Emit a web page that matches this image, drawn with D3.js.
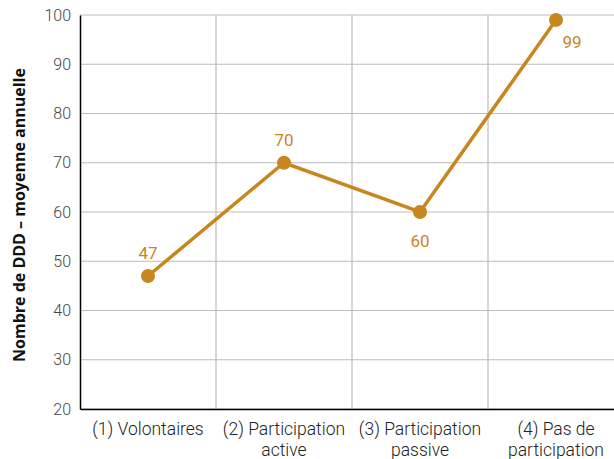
<!DOCTYPE html>
<html>
<head>
<meta charset="utf-8">
<script src="https://cdn.jsdelivr.net/npm/d3@7"></script>
<style>
  body { margin: 0; background: #fff; }
  svg { display: block; }
  .tick text { font-family: Roboto, sans-serif; font-weight: 300; }
</style>
</head>
<body>
<svg id="chart" width="614" height="459"></svg>
<script>
const categories = ["(1) Volontaires", "(2) Participation active", "(3) Participation passive", "(4) Pas de participation"];
const catLines = [["(1) Volontaires"], ["(2) Participation", "active"], ["(3) Participation", "passive"], ["(4) Pas de", "participation"]];
const values = [47, 70, 60, 99];
const yTicks = [20, 30, 40, 50, 60, 70, 80, 90, 100];
const labelPos = ["above", "above", "below", "right"];

const color = "#c8861e";
const svg = d3.select("#chart");

const x = d3.scaleBand().domain(categories).range([80, 624]);
const y = d3.scaleLinear().domain([20, 100]).range([409, 15]);

// horizontal grid
svg.append("g")
    .selectAll("line")
    .data(yTicks)
    .join("line")
    .attr("x1", 80).attr("x2", 614)
    .attr("y1", d => y(d)).attr("y2", d => y(d))
    .attr("stroke", "#bdbdbd").attr("stroke-width", 1.2);

// vertical grid at band edges
svg.append("g")
    .selectAll("line")
    .data(categories.slice(1))
    .join("line")
    .attr("x1", d => x(d)).attr("x2", d => x(d))
    .attr("y1", y(100)).attr("y2", y(20))
    .attr("stroke", "#bdbdbd").attr("stroke-width", 1.2);

// y axis
const yAxis = svg.append("g")
    .attr("transform", "translate(80,0)")
    .call(d3.axisLeft(y).tickValues(yTicks).tickSize(0).tickPadding(9));
yAxis.select(".domain").attr("stroke", "#000").attr("stroke-width", 1.5);
yAxis.selectAll(".tick text").attr("font-size", 16).attr("fill", "#444");

// x axis
const xAxis = svg.append("g")
    .attr("transform", `translate(0,${y(20)})`)
    .call(d3.axisBottom(x).tickSize(0).tickFormat(""));
xAxis.select(".domain").attr("stroke", "#000").attr("stroke-width", 1.5);
xAxis.selectAll(".tick text").remove();

svg.append("g")
    .selectAll("text")
    .data(categories)
    .join("text")
    .attr("x", d => x(d) + x.bandwidth() / 2)
    .attr("y", 435)
    .attr("text-anchor", "middle")
    .attr("font-family", "Roboto, sans-serif")
    .attr("font-weight", 300)
    .attr("font-size", 17.5)
    .attr("fill", "#222")
    .each(function(d, i) {
        const t = d3.select(this);
        catLines[i].forEach((line, j) => {
            t.append("tspan")
                .attr("x", x(d) + x.bandwidth() / 2)
                .attr("dy", j === 0 ? 0 : 21)
                .text(line);
        });
    });

// y title
svg.append("text")
    .attr("transform", "translate(25,215) rotate(-90)")
    .attr("text-anchor", "middle")
    .attr("font-family", "'Open Sans', sans-serif")
    .attr("font-weight", 700)
    .attr("font-size", 16)
    .attr("fill", "#111")
    .text("Nombre de DDD – moyenne annuelle");

// line
const cx = d => x(d) + x.bandwidth() / 2;
const line = d3.line()
    .x((d, i) => cx(categories[i]))
    .y(d => y(d));
svg.append("path")
    .datum(values)
    .attr("d", line)
    .attr("fill", "none")
    .attr("stroke", color)
    .attr("stroke-width", 3.5);

svg.append("g")
    .selectAll("circle")
    .data(values)
    .join("circle")
    .attr("cx", (d, i) => cx(categories[i]))
    .attr("cy", d => y(d))
    .attr("r", 7)
    .attr("fill", color);

// value labels
svg.append("g")
    .selectAll("text")
    .data(values)
    .join("text")
    .attr("x", (d, i) => cx(categories[i]) + (labelPos[i] === "right" ? 16 : 0))
    .attr("y", (d, i) => {
        if (labelPos[i] === "above") return y(d) - 17;
        if (labelPos[i] === "below") return y(d) + 35;
        return y(d) + 28;
    })
    .attr("text-anchor", "middle")
    .attr("font-family", "Roboto, sans-serif")
    .attr("font-size", 17)
    .attr("fill", color)
    .text(d => d);
</script>
</body>
</html>
